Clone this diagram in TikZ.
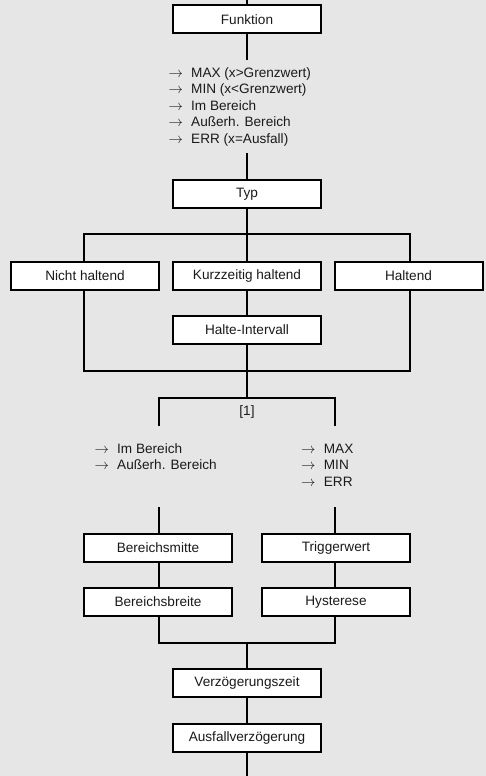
\documentclass[tikz,border=0pt]{standalone}
\usepackage{fontspec}
\setmainfont{Liberation Sans}
\definecolor{bg}{HTML}{E6E6E6}
\definecolor{txt}{HTML}{1A1A1A}
\begin{document}
\begin{tikzpicture}[x=1pt,y=-1pt,
  box/.style={draw=black,line width=2pt,fill=white,minimum width=148pt,minimum height=28pt,inner sep=0pt,font=\fontsize{13.6}{16}\selectfont,text=txt},
  item/.style={inner sep=0pt,anchor=base west,font=\fontsize{13.6}{16}\selectfont,text=txt},
  wire/.style={draw=black,line width=2pt}]
\fill[bg] (0,0) rectangle (486,776);
\useasboundingbox (0,0) rectangle (486,776);
% boxes
\node[box] (fun) at (247,19.5) {Funktion};
\node[box] (typ) at (247,194) {Typ};
\node[box] (nh) at (85,275.5) {Nicht haltend};
\node[box] (kh) at (247,275.5) {Kurzzeitig haltend};
\node[box] (ha) at (408.5,275.5) {Haltend};
\node[box] (hi) at (247,330) {Halte-Intervall};
\node[box] (bm) at (158,548) {Bereichsmitte};
\node[box] (tw) at (336,548) {Triggerwert};
\node[box] (bb) at (158,602) {Bereichsbreite};
\node[box] (hy) at (336,602) {Hysterese};
\node[box] (vz) at (247,683) {Verzögerungszeit};
\node[box] (av) at (247,738) {Ausfallverzögerung};
% coordinates
\coordinate (top) at (247,0);
\coordinate (f1) at (247,60);
\coordinate (f2) at (247,153);
\coordinate (b1) at (247,234);
\coordinate (b1l) at (84,234);
\coordinate (b1r) at (409.5,234);
\coordinate (b2) at (247,371);
\coordinate (b3) at (247,398);
\coordinate (b3l) at (158.5,398);
\coordinate (b3r) at (335,398);
\coordinate (l1) at (158.5,426);
\coordinate (r1) at (335,426);
\coordinate (l2) at (158.5,507);
\coordinate (r2) at (335,507);
\coordinate (b4) at (247,643);
\coordinate (bot) at (247,776);
% lists
\foreach \t [count=\i] in {MAX (x>Grenzwert),MIN (x<Grenzwert),Im Bereich,Außerh. Bereich,ERR (x=Ausfall)}
  \node[item] (fa\i) at (168.3,{77.3+16.5*(\i-1)}) {\makebox[22.7pt][l]{$\rightarrow$}\t};
\foreach \t [count=\i] in {Im Bereich,Außerh. Bereich}
  \node[item] (la\i) at (94.3,{453.3+16.5*(\i-1)}) {\makebox[22.7pt][l]{$\rightarrow$}\t};
\foreach \t [count=\i] in {MAX,MIN,ERR}
  \node[item] (ra\i) at (301,{453.3+16.5*(\i-1)}) {\makebox[22.7pt][l]{$\rightarrow$}\t};
\node[inner sep=0pt,font=\fontsize{13.6}{16}\selectfont,text=txt] (one) at (247,412) {[1]};
% wires
\draw[wire] (top) -- (fun.north);
\draw[wire] (fun.south) -- (f1);
\draw[wire] (f2) -- (typ.north);
\draw[wire] (typ.south) -- (b1);
\draw[wire] (nh.north -| b1l) -- (b1l) -- (b1r) -- (ha.north -| b1r);
\draw[wire] (b1) -- (kh.north);
\draw[wire] (kh.south) -- (hi.north);
\draw[wire] (nh.south -| b1l) |- (b2) -| (ha.south -| b1r);
\draw[wire] (hi.south) -- (b3);
\draw[wire] (l1) -- (b3l) -- (b3r) -- (r1);
\draw[wire] (l2) -- (bm.north -| l2);
\draw[wire] (r2) -- (tw.north -| r2);
\draw[wire] (bm.south -| l2) -- (bb.north -| l2);
\draw[wire] (tw.south -| r2) -- (hy.north -| r2);
\draw[wire] (bb.south -| l2) |- (b4) -| (hy.south -| r2);
\draw[wire] (b4) -- (vz.north);
\draw[wire] (vz.south) -- (av.north);
\draw[wire] (av.south) -- (bot);
\end{tikzpicture}
\end{document}
